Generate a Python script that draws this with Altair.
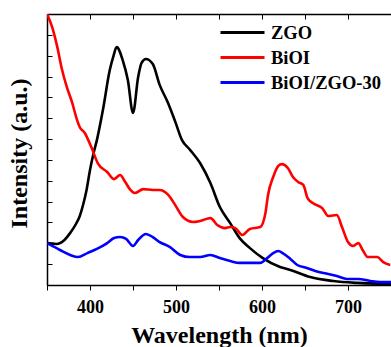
import altair as alt
import pandas as pd

series_names = ["ZGO", "BiOI", "BiOI/ZGO-30"]
series_colors = ["#000000", "#ff0000", "#0000ff"]

zgo_wl = [350, 361, 370, 377, 384, 388, 392, 396, 400, 404, 408, 415, 423, 427, 431, 438, 444, 450,
          456, 460, 465, 473, 481, 490, 499, 507, 516, 528, 540, 551, 563, 574, 586, 601, 621,
          633, 656, 683, 710, 750]
zgo_val = [2.01, 1.97, 2.15, 2.5, 2.95, 3.3, 3.85, 4.56, 5.52, 6.3, 6.95, 8.39, 10.31, 10.94, 11.41,
           10.79, 9.83, 8.25, 9.98, 10.65, 10.84, 10.6, 9.6, 8.8, 7.85, 6.95, 6.5, 5.85, 4.89,
           3.74, 2.97, 2.25, 1.77, 1.29, 0.86, 0.72, 0.38, 0.19, 0.1, 0.05]

bioi_wl = [350, 356, 362, 367, 373, 379, 385, 388, 394, 398, 402, 409, 420, 428, 435, 441, 447,
           452, 462, 473, 481, 491, 499, 508, 520, 528, 540, 548, 557, 563, 569, 577, 586, 598,
           604, 607, 613, 619, 623, 630, 636, 642, 648, 653, 659, 670, 677, 687, 693, 700, 706,
           712, 717, 723, 734, 741, 749]
bioi_val = [13.0, 12.37, 11.41, 10.41, 9.5, 8.78, 7.91, 7.58, 7.29, 6.95, 6.57, 5.85, 5.42, 5.08,
            5.28, 4.94, 4.56, 4.41, 4.6, 4.56, 4.56, 4.32, 3.84, 3.26, 3.02, 3.07, 3.21, 2.88,
            2.73, 2.78, 2.73, 2.4, 2.69, 2.78, 3.45, 4.32, 5.18, 5.71, 5.8, 5.61, 5.18, 4.94,
            4.8, 4.17, 3.93, 3.69, 3.31, 3.36, 2.78, 2.06, 1.87, 2.01, 1.68, 1.34, 1.34, 1.1,
            0.96]

comp_wl = [350, 365, 377, 386, 397, 408, 420, 428, 435, 442, 450, 456, 465, 473, 481, 493, 505,
           516, 528, 540, 551, 563, 574, 586, 598, 606, 613, 619, 624, 633, 641, 652, 662, 677,
           687, 699, 712, 726, 737, 750]
comp_val = [2.01, 1.68, 1.44, 1.34, 1.53, 1.73, 2.01, 2.25, 2.3, 2.21, 1.87, 2.16, 2.45, 2.3,
            2.06, 1.82, 1.44, 1.34, 1.34, 1.44, 1.29, 1.15, 1.06, 1.06, 1.06, 1.29, 1.53, 1.63,
            1.53, 1.25, 0.96, 0.82, 0.67, 0.53, 0.43, 0.29, 0.29, 0.19, 0.14, 0.14]

x_ticks = [350, 400, 450, 500, 550, 600, 650, 700, 750]
y_ticks = list(range(0, 14))

frames = []
for name, wl, val in [(series_names[0], zgo_wl, zgo_val),
                      (series_names[1], bioi_wl, bioi_val),
                      (series_names[2], comp_wl, comp_val)]:
    frames.append(pd.DataFrame({"wl": wl, "val": val, "series": name}))
df = pd.concat(frames, ignore_index=True)

FONT = "Liberation Serif"
W, H = 344, 271

x_scale = alt.Scale(domain=[350, 750], nice=False, zero=False)
y_scale = alt.Scale(domain=[0, 13], nice=False, zero=False)

lines = alt.Chart(df).mark_line(strokeWidth=2.6, interpolate="monotone", clip=True).encode(
    x=alt.X("wl:Q", scale=x_scale,
            axis=alt.Axis(values=x_ticks, labelExpr="datum.value % 100 == 0 ? datum.label : ''",
                          domain=True, domainColor="black", domainWidth=1.5,
                          grid=False, tickSize=5, tickColor="black", tickWidth=1,
                          labelFont=FONT, labelFontSize=18, labelFontWeight="bold", labelColor="black",
                          labelPadding=8, title="Wavelength (nm)", titleFont=FONT,
                          titleFontSize=24, titleFontWeight="bold", titleColor="black",
                          titleBaseline="alphabetic", titleY=57)),
    y=alt.Y("val:Q", scale=y_scale,
            axis=alt.Axis(values=y_ticks, labels=False, domain=False, grid=False, offset=-5,
                          tickSize=5, tickColor="black", tickWidth=1,
                          title="Intensity (a.u.)", titleFont=FONT, titleFontSize=24,
                          titleFontWeight="bold", titleColor="black", titleAngle=270,
                          titleAlign="center", titleBaseline="middle", titleX=-33, titleY=139)),
    color=alt.Color("series:N", scale=alt.Scale(domain=series_names, range=series_colors),
                    sort=series_names,
                    legend=alt.Legend(title=None, orient="none", legendX=186, legendY=9,
                                      symbolType="M-2.75,0H2.75", symbolSize=256,
                                      symbolStrokeWidth=3, labelFont=FONT, labelFontSize=18.5,
                                      labelFontWeight="bold", labelColor="black",
                                      labelOffset=19, rowPadding=6, padding=0)),
)

top_ticks = alt.Chart(df).mark_line(opacity=0).encode(
    x=alt.X("wl:Q", scale=x_scale,
            axis=alt.Axis(orient="top", values=x_ticks, labels=False, domain=False, grid=False,
                          offset=-5, tickSize=5, tickColor="black", tickWidth=1, title=None)),
    y=alt.Y("val:Q", scale=y_scale, axis=None),
)

top_frame = alt.Chart(df).mark_line(opacity=0).encode(
    x=alt.X("wl:Q", scale=x_scale,
            axis=alt.Axis(orient="top", labels=False, ticks=False, domain=True,
                          domainColor="black", domainWidth=1.5, grid=False, title=None)),
    y=alt.Y("val:Q", scale=y_scale,
            axis=alt.Axis(orient="left", labels=False, ticks=False, domain=True,
                          domainColor="black", domainWidth=1.5, grid=False, title=None)),
)

chart = alt.layer(lines, top_ticks, top_frame).resolve_axis(x="independent", y="independent").properties(
    width=W, height=H,
    autosize=alt.AutoSizeParams(type="none"),
    padding={"left": 47, "top": 14, "right": 0, "bottom": 62},
).configure_view(stroke="black", strokeWidth=1.5).configure(background="white")

chart.save("out.html", embed_options={"renderer": "svg", "actions": False})
